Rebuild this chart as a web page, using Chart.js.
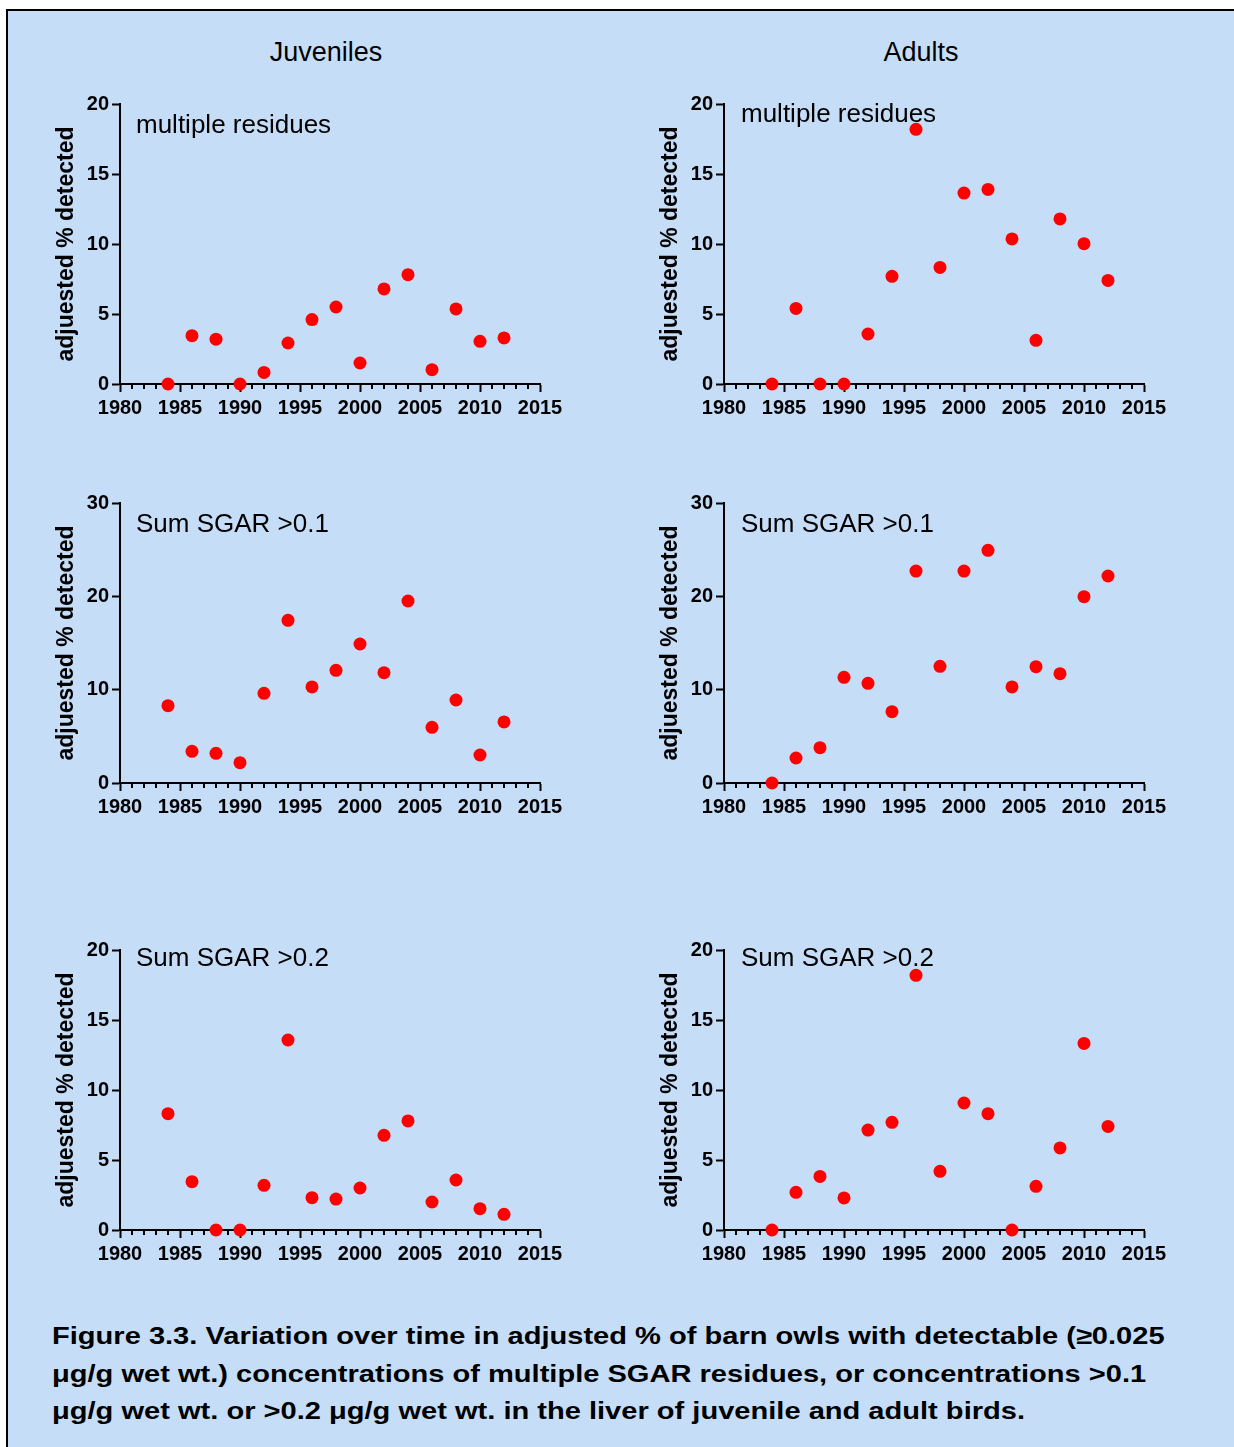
<!DOCTYPE html>
<html><head><meta charset="utf-8">
<script src="https://cdn.jsdelivr.net/npm/chart.js@4.4.0/dist/chart.umd.min.js"></script>
<style>
html,body{margin:0;padding:0;background:#fff;}
body{width:1234px;height:1447px;position:relative;overflow:hidden;font-family:"Liberation Sans",Arial,sans-serif;color:#000;}
#frame{position:absolute;left:6px;top:9px;width:1250px;height:1460px;background:#C6DDF8;border-left:2px solid #000;border-top:2px solid #000;}
canvas{position:absolute;}
.lbl{position:absolute;font-size:26px;line-height:1;white-space:nowrap;}
.ttl{position:absolute;font-size:27px;line-height:1;white-space:nowrap;transform:translateX(-50%);}
#cap{position:absolute;left:52px;top:1317px;font-weight:bold;font-size:24px;line-height:37.5px;white-space:nowrap;transform:scaleX(1.211);transform-origin:0 0;}
</style>
</head><body>
<div id="frame"></div>
<div class="ttl" style="left:326px;top:39px;">Juveniles</div>
<div class="ttl" style="left:921px;top:39px;">Adults</div>
<canvas id="c1" width="550" height="340" style="left:20px;top:84px;"></canvas>
<canvas id="c2" width="550" height="340" style="left:624px;top:84px;"></canvas>
<canvas id="c3" width="550" height="340" style="left:20px;top:483px;"></canvas>
<canvas id="c4" width="550" height="340" style="left:624px;top:483px;"></canvas>
<canvas id="c5" width="550" height="340" style="left:20px;top:930px;"></canvas>
<canvas id="c6" width="550" height="340" style="left:624px;top:930px;"></canvas>
<div class="lbl" style="left:136px;top:111px;">multiple residues</div>
<div class="lbl" style="left:741px;top:100px;">multiple residues</div>
<div class="lbl" style="left:136px;top:510px;">Sum SGAR &gt;0.1</div>
<div class="lbl" style="left:741px;top:510px;">Sum SGAR &gt;0.1</div>
<div class="lbl" style="left:136px;top:944px;">Sum SGAR &gt;0.2</div>
<div class="lbl" style="left:741px;top:944px;">Sum SGAR &gt;0.2</div>
<div id="cap">Figure 3.3. Variation over time in adjusted % of barn owls with detectable (&ge;0.025<br>&mu;g/g wet wt.) concentrations of multiple SGAR residues, or concentrations &gt;0.1<br>&mu;g/g wet wt. or &gt;0.2 &mu;g/g wet wt. in the liver of juvenile and adult birds.</div>
<script>
// ---- data ----
const years = [1984,1986,1988,1990,1992,1994,1996,1998,2000,2002,2004,2006,2008,2010,2012];
const juvMultiple = [0,3.45,3.2,0,0.83,2.93,4.6,5.5,1.5,6.79,7.81,1.02,5.36,3.05,3.29];
const adultMultiple = [0,5.4,0,0,3.57,7.69,18.19,8.33,13.64,13.9,10.36,3.12,11.79,10.02,7.4];
const juvSum01 = [8.29,3.39,3.18,2.18,9.61,17.43,10.29,12.07,14.89,11.82,19.5,5.96,8.89,3.0,6.54];
const adultSum01 = [0,2.68,3.79,11.32,10.68,7.64,22.71,12.5,22.71,24.93,10.29,12.46,11.71,19.96,22.18];
const juvSum02 = [8.31,3.45,0,0,3.19,13.57,2.31,2.21,3.0,6.76,7.79,2.0,3.57,1.52,1.12];
const adultSum02 = [0,2.69,3.83,2.29,7.14,7.69,18.19,4.19,9.07,8.31,0,3.12,5.86,13.33,7.4];
const xTicks = [1980,1985,1990,1995,2000,2005,2010,2015];
const yTicks20 = [0,5,10,15,20];
const yTicks30 = [0,10,20,30];
const yTitle = 'adjuested % detected';

const FONT = '"Liberation Sans", Arial, sans-serif';
Chart.defaults.font.family = FONT;
Chart.defaults.color = '#000';

const minorTicks = {
  id: 'minorTicks',
  beforeDatasetsDraw(chart) {
    const xs = chart.scales.x, ctx = chart.ctx, b = chart.chartArea.bottom;
    ctx.save();
    ctx.strokeStyle = '#000';
    ctx.lineWidth = 2;
    for (let yr = xTicks[0]; yr <= xTicks[xTicks.length - 1]; yr++) {
      if (xTicks.includes(yr)) continue;
      const px = Math.round(xs.getPixelForValue(yr));
      ctx.beginPath();
      ctx.moveTo(px, b);
      ctx.lineTo(px, b + 5);
      ctx.stroke();
    }
    ctx.restore();
  }
};

function makeChart(id, values, yTicks) {
  const ymax = yTicks[yTicks.length - 1];
  new Chart(document.getElementById(id), {
    type: 'scatter',
    data: {
      datasets: [{
        data: years.map((y, i) => ({x: y, y: values[i]})),
        backgroundColor: '#FF0000',
        borderWidth: 0,
        pointRadius: 6.5,
        pointHoverRadius: 6.5,
        clip: false
      }]
    },
    plugins: [minorTicks],
    options: {
      responsive: false,
      animation: false,
      devicePixelRatio: 1,
      events: [],
      layout: {padding: {left: 0, top: 20, right: 30, bottom: 0}},
      plugins: {legend: {display: false}, tooltip: {enabled: false}},
      scales: {
        x: {
          type: 'linear',
          min: xTicks[0], max: xTicks[xTicks.length - 1],
          afterBuildTicks: s => { s.ticks = xTicks.map(v => ({value: v})); },
          afterFit: s => { s.height = 40; },
          border: {display: true, color: '#000', width: 2},
          grid: {drawOnChartArea: false, drawTicks: true, tickLength: 8, tickWidth: 2, tickColor: '#000'},
          ticks: {
            autoSkip: false, maxRotation: 0, padding: 4,
            font: {size: 20, weight: 'bold'}, color: '#000',
            callback: v => String(v)
          }
        },
        y: {
          type: 'linear',
          min: 0, max: ymax,
          afterBuildTicks: s => { s.ticks = yTicks.map(v => ({value: v})); },
          afterFit: s => { s.width = 100; },
          border: {display: true, color: '#000', width: 2},
          grid: {drawOnChartArea: false, drawTicks: true, tickLength: 8, tickWidth: 2, tickColor: '#000'},
          ticks: {
            padding: 3, font: {size: 20, weight: 'bold'}, color: '#000',
            callback: v => String(v)
          },
          title: {
            display: true, text: yTitle, color: '#000',
            font: {size: 23, weight: 'bold'},
            padding: {top: 33, bottom: 0}
          }
        }
      }
    }
  });
}

makeChart('c1', juvMultiple, yTicks20);
makeChart('c2', adultMultiple, yTicks20);
makeChart('c3', juvSum01, yTicks30);
makeChart('c4', adultSum01, yTicks30);
makeChart('c5', juvSum02, yTicks20);
makeChart('c6', adultSum02, yTicks20);
</script>
</body></html>
